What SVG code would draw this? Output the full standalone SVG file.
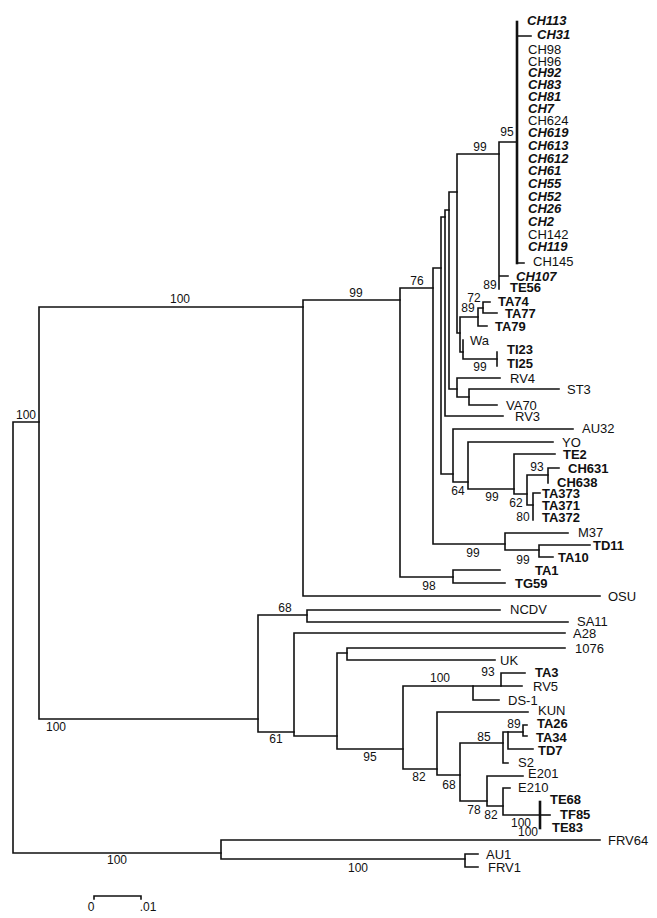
<svg xmlns="http://www.w3.org/2000/svg" width="657" height="918" viewBox="0 0 657 918">
<style>
text{font-family:"Liberation Sans",Arial,sans-serif;fill:#111}
.l{font-size:13px}
.b{font-size:13px;font-weight:bold}
.bi{font-size:13px;font-weight:bold;font-style:italic}
.n{font-size:12px;text-anchor:middle}
.c path{fill:none;stroke:#111;stroke-width:1.6;stroke-linecap:square}
.c path.t{stroke-width:2.6}
</style>
<rect width="657" height="918" fill="#fff"/>
<g id="connectors" class="c">
<path d="M13,422V853M13,422H39M13,853H221"/>
<path d="M39,307V719M39,307H303M39,719H258"/>
<path d="M303,300V596M303,300H400M303,596H600"/>
<path d="M400,288V577M400,288H433M400,577H453"/>
<path d="M453,570V583M453,570H500M453,583H505"/>
<path d="M433,268V544M433,268H441M433,544H505"/>
<path d="M505,533V550M505,533H568M505,550H539"/>
<path d="M539,545V557M539,545H590M539,557H553"/>
<path d="M441,217V474M441,217H445M441,474H453"/>
<path d="M453,429V482M453,429H573M453,482H468"/>
<path d="M468,442V489M468,442H553M468,489H514"/>
<path d="M514,454V494M514,454H555M514,494H527"/>
<path d="M527,475V505M527,475H548M527,505H533"/>
<path d="M548,468V483M548,468H559"/>
<path d="M533,493V520M533,493H540"/>
<path d="M445,210V416M445,210H449M445,416H503"/>
<path d="M449,192V389M449,192H457M449,389H457"/>
<path d="M457,378V397M457,378H500M457,397H469"/>
<path d="M469,389V405M469,389H559M469,405H497"/>
<path d="M457,154V333M457,154H499M457,333H460"/>
<path d="M460,317V352M460,317H478M460,352H463"/>
<path d="M478,308V326M478,308H483M478,326H487"/>
<path d="M483,302V313M483,302H490M483,313H497"/>
<path d="M463,340V359M463,359H497"/>
<path d="M497,352V366"/>
<path d="M499,142V289M499,142H517M499,276H508"/>
<path class="t" d="M517,22V263"/>
<path d="M517,36H531M517,263H524"/>
<path d="M258,615V732M258,615H307M258,732H294"/>
<path d="M307,610V622M307,610H500M307,622H568"/>
<path d="M294,633V736M294,633H565M294,736H337"/>
<path d="M337,653V749M337,653H347M337,749H403"/>
<path d="M347,648V660M347,648H565M347,660H495"/>
<path d="M403,686V769M403,686H473M403,769H437"/>
<path d="M473,686V700M473,686H501M473,700H499"/>
<path d="M501,673V686M501,673H525M501,686H522"/>
<path d="M437,712V775M437,712H528M437,775H460"/>
<path d="M460,743V801M460,743H503M460,801H487"/>
<path d="M503,732V763M503,732H523M503,763H508"/>
<path d="M508,732V749M508,749H533"/>
<path d="M523,725V736M523,725H527M523,736H527"/>
<path d="M487,776V806M487,776H523M487,806H503"/>
<path d="M503,788V815M503,788H510M503,815H540"/>
<path class="t" d="M540,802V828"/>
<path d="M540,815H550"/>
<path d="M221,840V859M221,840H600M221,859H465"/>
<path d="M465,854V867M465,854H478M465,867H478"/>
<path d="M94,899V896H141V899"/>
</g>
<g id="leaves">
<g id="CH113"><text class="bi" x="527" y="24.5">CH113</text></g>
<g id="CH31"><text class="bi" x="537" y="38.5">CH31</text></g>
<g id="CH98"><text class="l" x="528" y="53.5">CH98</text></g>
<g id="CH96"><text class="l" x="528" y="65.5">CH96</text></g>
<g id="CH92"><text class="bi" x="528" y="76.5">CH92</text></g>
<g id="CH83"><text class="bi" x="528" y="88.5">CH83</text></g>
<g id="CH81"><text class="bi" x="528" y="100.5">CH81</text></g>
<g id="CH7"><text class="bi" x="528" y="112.5">CH7</text></g>
<g id="CH624"><text class="l" x="528" y="124.5">CH624</text></g>
<g id="CH619"><text class="bi" x="528" y="136.5">CH619</text></g>
<g id="CH613"><text class="bi" x="528" y="149.5">CH613</text></g>
<g id="CH612"><text class="bi" x="528" y="162.5">CH612</text></g>
<g id="CH61"><text class="bi" x="528" y="174.5">CH61</text></g>
<g id="CH55"><text class="bi" x="528" y="187.5">CH55</text></g>
<g id="CH52"><text class="bi" x="528" y="200.5">CH52</text></g>
<g id="CH26"><text class="bi" x="528" y="212.5">CH26</text></g>
<g id="CH2"><text class="bi" x="528" y="225.5">CH2</text></g>
<g id="CH142"><text class="l" x="528" y="238.5">CH142</text></g>
<g id="CH119"><text class="bi" x="528" y="250.5">CH119</text></g>
<g id="CH145"><text class="l" x="533" y="265.5">CH145</text></g>
<g id="CH107"><text class="bi" x="516" y="280.5">CH107</text></g>
<g id="TE56"><text class="b" x="510" y="291.5">TE56</text></g>
<g id="TA74"><text class="b" x="498" y="305.5">TA74</text></g>
<g id="TA77"><text class="b" x="505" y="317.5">TA77</text></g>
<g id="TA79"><text class="b" x="495" y="330.5">TA79</text></g>
<g id="Wa"><text class="l" x="470" y="344.5">Wa</text></g>
<g id="TI23"><text class="b" x="507" y="353.5">TI23</text></g>
<g id="TI25"><text class="b" x="507" y="367.5">TI25</text></g>
<g id="RV4"><text class="l" x="510" y="382.5">RV4</text></g>
<g id="ST3"><text class="l" x="567" y="393.5">ST3</text></g>
<g id="VA70"><text class="l" x="506" y="409.5">VA70</text></g>
<g id="RV3"><text class="l" x="515" y="420.5">RV3</text></g>
<g id="AU32"><text class="l" x="582" y="432.5">AU32</text></g>
<g id="YO"><text class="l" x="562" y="446.5">YO</text></g>
<g id="TE2"><text class="b" x="563" y="458.5">TE2</text></g>
<g id="CH631"><text class="b" x="568" y="472.5">CH631</text></g>
<g id="CH638"><text class="b" x="557" y="486.5">CH638</text></g>
<g id="TA373"><text class="b" x="542" y="497.5">TA373</text></g>
<g id="TA371"><text class="b" x="542" y="509.5">TA371</text></g>
<g id="TA372"><text class="b" x="542" y="521.5">TA372</text></g>
<g id="M37"><text class="l" x="578" y="536.5">M37</text></g>
<g id="TD11"><text class="b" x="593" y="549.5">TD11</text></g>
<g id="TA10"><text class="b" x="558" y="561.5">TA10</text></g>
<g id="TA1"><text class="b" x="535" y="574.5">TA1</text></g>
<g id="TG59"><text class="b" x="515" y="587.5">TG59</text></g>
<g id="OSU"><text class="l" x="608" y="600.5">OSU</text></g>
<g id="NCDV"><text class="l" x="510" y="613.5">NCDV</text></g>
<g id="SA11"><text class="l" x="577" y="625.5">SA11</text></g>
<g id="A28"><text class="l" x="573" y="637.5">A28</text></g>
<g id="n1076"><text class="l" x="575" y="652.5">1076</text></g>
<g id="UK"><text class="l" x="500" y="664.5">UK</text></g>
<g id="TA3"><text class="b" x="535" y="676.5">TA3</text></g>
<g id="RV5"><text class="l" x="533" y="690.5">RV5</text></g>
<g id="DS-1"><text class="l" x="508" y="704.5">DS-1</text></g>
<g id="KUN"><text class="l" x="538" y="714.5">KUN</text></g>
<g id="TA26"><text class="b" x="537" y="727.5">TA26</text></g>
<g id="TA34"><text class="b" x="536" y="741.5">TA34</text></g>
<g id="TD7"><text class="b" x="538" y="754.5">TD7</text></g>
<g id="S2"><text class="l" x="518" y="766.5">S2</text></g>
<g id="E201"><text class="l" x="528" y="777.5">E201</text></g>
<g id="E210"><text class="l" x="518" y="791.5">E210</text></g>
<g id="TE68"><text class="b" x="550" y="803.5">TE68</text></g>
<g id="TF85"><text class="b" x="560" y="818.5">TF85</text></g>
<g id="TE83"><text class="b" x="552" y="831.5">TE83</text></g>
<g id="FRV64"><text class="l" x="608" y="844.5">FRV64</text></g>
<g id="AU1"><text class="l" x="486" y="858.5">AU1</text></g>
<g id="FRV1"><text class="l" x="488" y="871.5">FRV1</text></g>
</g>
<g id="bootstrap">
<text class="n" x="180" y="303.3">100</text>
<text class="n" x="26" y="419.3">100</text>
<text class="n" x="356" y="297.3">99</text>
<text class="n" x="417" y="285.3">76</text>
<text class="n" x="480" y="151.3">99</text>
<text class="n" x="507" y="136.3">95</text>
<text class="n" x="490" y="289.3">89</text>
<text class="n" x="474" y="302.3">72</text>
<text class="n" x="468" y="312.3">89</text>
<text class="n" x="480" y="371.3">99</text>
<text class="n" x="458" y="495.3">64</text>
<text class="n" x="492" y="501.3">99</text>
<text class="n" x="516" y="507.3">62</text>
<text class="n" x="537" y="471.3">93</text>
<text class="n" x="523" y="521.3">80</text>
<text class="n" x="473" y="557.3">99</text>
<text class="n" x="523" y="564.3">99</text>
<text class="n" x="429" y="590.3">98</text>
<text class="n" x="285" y="612.3">68</text>
<text class="n" x="56" y="731.3">100</text>
<text class="n" x="440" y="682.3">100</text>
<text class="n" x="488" y="676.3">93</text>
<text class="n" x="276" y="743.3">61</text>
<text class="n" x="370" y="761.3">95</text>
<text class="n" x="419" y="781.3">82</text>
<text class="n" x="449" y="789.3">68</text>
<text class="n" x="484" y="741.3">85</text>
<text class="n" x="514" y="728.3">89</text>
<text class="n" x="474" y="814.3">78</text>
<text class="n" x="491" y="819.3">82</text>
<text class="n" x="521" y="827.3">100</text>
<text class="n" x="528" y="836.3">100</text>
<text class="n" x="117" y="864.3">100</text>
<text class="n" x="358" y="872.3">100</text>
</g>
<g id="scale">
<text class="n" x="91" y="911.3">0</text>
<text class="n" x="148" y="911.3">.01</text>
</g>
</svg>
